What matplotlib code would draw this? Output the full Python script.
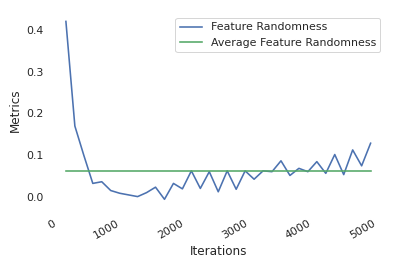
import numpy as np
import matplotlib
matplotlib.use("Agg")
import matplotlib.pyplot as plt

iterations = [140 * k for k in range(1, 36)]
feature_randomness = [
    0.42, 0.170, 0.100, 0.033, 0.037, 0.016, 0.0095, 0.0055, 0.0015, 0.011,
    0.024, -0.005, 0.033, 0.020, 0.063, 0.021, 0.061, 0.013, 0.063, 0.019,
    0.063, 0.043, 0.063, 0.061, 0.087, 0.052, 0.069, 0.061, 0.085, 0.057,
    0.102, 0.054, 0.113, 0.075, 0.129,
]
avg_value = float(np.mean(feature_randomness))
avg_series = [avg_value] * len(iterations)

xticks = [0, 1000, 2000, 3000, 4000, 5000]
yticks = [0.0, 0.1, 0.2, 0.3, 0.4]

plt.rcParams.update({
    "font.family": ["DejaVu Sans"],
    "text.color": "#262626",
    "axes.labelcolor": "#262626",
    "xtick.color": "#262626",
    "ytick.color": "#262626",
    "xtick.labelsize": 11,
    "ytick.labelsize": 11,
    "axes.labelsize": 12,
    "legend.fontsize": 11,
})

fig = plt.figure(figsize=(399 / 72, 265 / 72), dpi=72)
ax = fig.add_axes([0.127, 0.2143, 0.840, 0.7385])
ax.plot(iterations, feature_randomness, color="#4C72B0", lw=1.6, label="Feature Randomness")
ax.plot(iterations, avg_series, color="#55A868", lw=1.6, label="Average Feature Randomness")

for s in ax.spines.values():
    s.set_visible(False)
ax.tick_params(axis="y", length=0, pad=7)
ax.tick_params(axis="x", length=0, pad=10)
ax.set_xticks(xticks)
ax.set_yticks(yticks)
ax.set_yticklabels([f"{v:.1f}" for v in yticks])
plt.setp(ax.get_xticklabels(), rotation=30, ha="right")
ax.set_xlabel("Iterations")
ax.set_ylabel("Metrics")
ax.legend(loc="upper right", frameon=True, edgecolor="#cccccc")
fig.savefig("out.png", dpi=72, facecolor="white")
